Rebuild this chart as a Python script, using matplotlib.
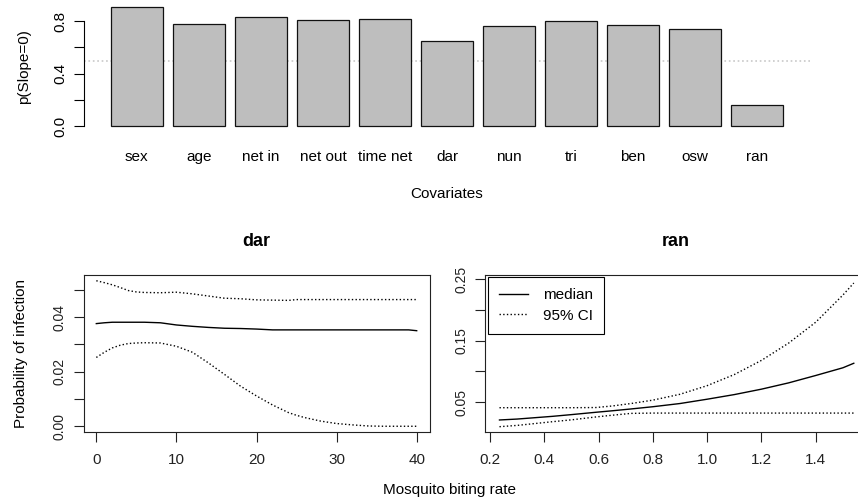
import numpy as np
import matplotlib
matplotlib.use("Agg")
import matplotlib.pyplot as plt

plt.rcParams['font.family'] = ['Liberation Sans', 'DejaVu Sans']

# top panel: probability that slope = 0 for each covariate
covariates = ['sex', 'age', 'net in', 'net out', 'time net', 'dar', 'nun', 'tri', 'ben', 'osw', 'ran']
p_slope0 = [0.909, 0.777, 0.828, 0.808, 0.815, 0.650, 0.762, 0.802, 0.772, 0.739, 0.160]

# bottom left: dar
dar_x = [0, 1, 2, 3, 4, 5, 6, 8, 10, 12, 14, 16, 18, 20, 22, 24, 25, 26, 28, 30, 32, 34, 36, 38, 39, 40]
dar_med = [0.0376, 0.0379, 0.0381, 0.0381, 0.0381, 0.0381, 0.0381, 0.0379, 0.0371, 0.0366, 0.0362, 0.0359,
           0.0358, 0.0356, 0.0353, 0.0353, 0.0353, 0.0353, 0.0353, 0.0353, 0.0353, 0.0353, 0.0353, 0.0353,
           0.0353, 0.0350]
dar_upper = [0.0533, 0.0526, 0.0518, 0.0508, 0.0497, 0.0492, 0.0490, 0.0489, 0.0491, 0.0485, 0.0477, 0.0469,
             0.0467, 0.0463, 0.0462, 0.0461, 0.0464, 0.0464, 0.0464, 0.0464, 0.0464, 0.0464, 0.0464, 0.0464,
             0.0464, 0.0464]
dar_lower = [0.0252, 0.0271, 0.0287, 0.0297, 0.0303, 0.0305, 0.0306, 0.0305, 0.0293, 0.0271, 0.0232, 0.0190,
             0.0147, 0.0111, 0.0078, 0.0050, 0.0040, 0.0032, 0.0019, 0.0010, 0.0005, 0.0001, 0.0, 0.0, 0.0, 0.0]

# bottom right: ran
ran_x = [0.235, 0.3, 0.43, 0.5, 0.59, 0.65, 0.72, 0.8, 0.9, 1.0, 1.1, 1.2, 1.3, 1.4, 1.5, 1.54]
ran_med = [0.0213, 0.0228, 0.0272, 0.0300, 0.0338, 0.0362, 0.0392, 0.0428, 0.0480, 0.0550, 0.0625, 0.0713,
           0.0815, 0.0935, 0.1060, 0.1133]
ran_upper = [0.0412, 0.0412, 0.0412, 0.0412, 0.0415, 0.0440, 0.0480, 0.0535, 0.0630, 0.0770, 0.0950, 0.1180,
             0.1460, 0.1800, 0.2240, 0.2435]
ran_lower = [0.0104, 0.0125, 0.0185, 0.0215, 0.0262, 0.0290, 0.0320, 0.0325, 0.0325, 0.0325, 0.0325, 0.0325,
             0.0325, 0.0325, 0.0325, 0.0325]

W, H = 858, 501
fig = plt.figure(figsize=(W / 100, H / 100), dpi=100)


def px_axes(l, t, r, b):
    # place axes using pixel edges (origin top-left)
    return fig.add_axes([l / W, 1 - b / H, (r - l) / W, (b - t) / H])


def r_box(ax):
    for s in ax.spines.values():
        s.set_linewidth(0.8)
        s.set_color('#222222')
    ax.tick_params(direction='out', length=7, width=0.8, labelsize=11, colors='#222222')
    ax.tick_params(axis='x', pad=8)
    ax.tick_params(axis='y', pad=5, labelsize=10)


# ---- top barplot ----
ax1 = px_axes(84, 2, 810, 131)
pos = 0.7 + 1.2 * np.arange(len(covariates))
ax1.axhline(0.5, color='#C8C8C8', ls=':', lw=1.2, zorder=1)
ax1.bar(pos, p_slope0, width=1, color='#BEBEBE', edgecolor='#111111', linewidth=0.9, zorder=2)
ax1.set_xlim(-0.32, 13.72)
ax1.set_ylim(-0.0364, 0.9455)
for side in ['top', 'right', 'bottom']:
    ax1.spines[side].set_visible(False)
ax1.spines['left'].set_bounds(0, 0.8)
ax1.spines['left'].set_linewidth(0.8)
ax1.set_yticks([0, 0.2, 0.4, 0.6, 0.8])
ax1.set_yticklabels(['0.0', '', '0.4', '', '0.8'], rotation=90, va='center')
ax1.set_xticks(pos)
ax1.set_xticklabels(covariates)
ax1.tick_params(axis='y', direction='out', length=7, width=0.8, labelsize=11, pad=5)
ax1.tick_params(axis='x', length=0, labelsize=11, pad=14)
fig.text(24 / W, 1 - 67 / H, 'p(Slope=0)', rotation=90, ha='center', va='center', fontsize=11)
fig.text(447 / W, 1 - 194 / H, 'Covariates', ha='center', va='center', fontsize=11)

# ---- bottom left: dar ----
ax2 = px_axes(83.5, 275, 429.5, 432)
ax2.plot(dar_x, dar_med, color='black', lw=1)
ax2.plot(dar_x, dar_upper, color='black', lw=1, ls=':')
ax2.plot(dar_x, dar_lower, color='black', lw=1, ls=':')
ax2.set_xlim(-1.6, 41.6)
ax2.set_ylim(-0.0021, 0.0554)
ax2.set_xticks([0, 10, 20, 30, 40])
ax2.set_yticks([0, 0.01, 0.02, 0.03, 0.04, 0.05])
ax2.set_yticklabels(['0.00', '', '0.02', '', '0.04', ''], rotation=90, va='center')
r_box(ax2)
ax2.set_title('dar', fontweight='bold', fontsize=13, pad=21)
fig.text(21 / W, 1 - 354 / H, 'Probability of infection', rotation=90, ha='center', va='center', fontsize=11)

# ---- bottom right: ran ----
ax3 = px_axes(485.3, 275, 867.9, 432)
ax3.plot(ran_x, ran_med, color='black', lw=1, label='median')
ax3.plot(ran_x, ran_upper, color='black', lw=1, ls=':', label='95% CI')
ax3.plot(ran_x, ran_lower, color='black', lw=1, ls=':')
ax3.set_xlim(0.1828, 1.592)
ax3.set_ylim(0.0018, 0.2565)
ax3.set_xticks([0.2, 0.4, 0.6, 0.8, 1.0, 1.2, 1.4])
ax3.set_xticklabels(['0.2', '0.4', '0.6', '0.8', '1.0', '1.2', '1.4'])
ax3.set_yticks([0.05, 0.10, 0.15, 0.20, 0.25])
ax3.set_yticklabels(['0.05', '', '0.15', '', '0.25'], rotation=90, va='center')
r_box(ax3)
ax3.set_title('ran', fontweight='bold', fontsize=13, pad=21, x=(676 - 485.3) / 382.6)
leg = ax3.legend(loc='upper left', bbox_to_anchor=(0.007, 0.987), borderaxespad=0, fancybox=False,
                 edgecolor='black', framealpha=1, fontsize=11, handlelength=1.85, handletextpad=1.0,
                 borderpad=0.75, labelspacing=0.4)
leg.get_frame().set_linewidth(0.8)

fig.text(449.5 / W, 1 - 490 / H, 'Mosquito biting rate', ha='center', va='center', fontsize=11)

fig.savefig('out.png', dpi=100)
